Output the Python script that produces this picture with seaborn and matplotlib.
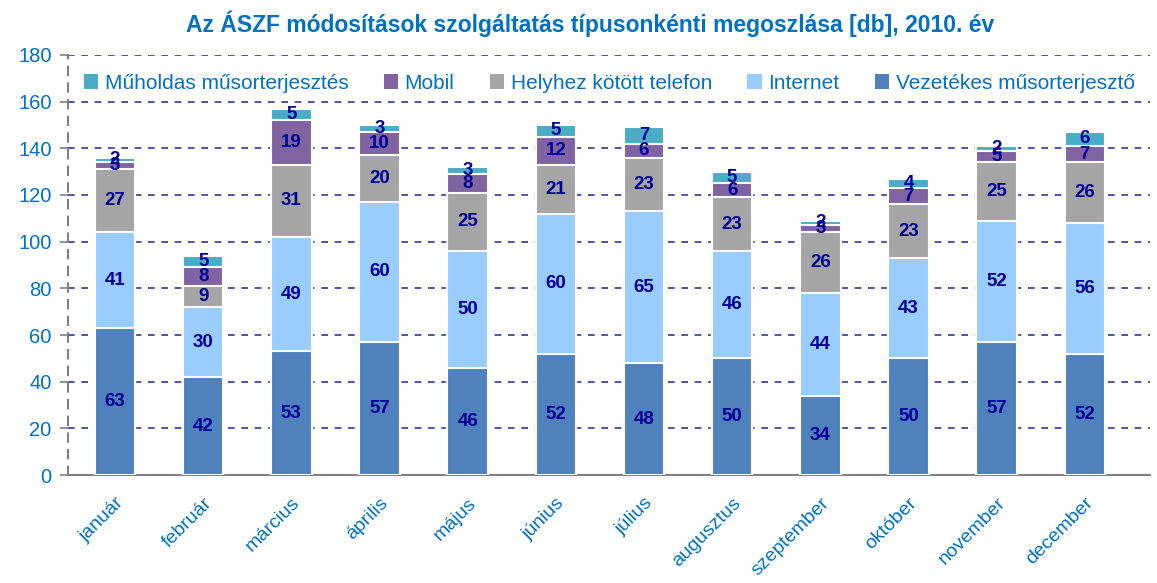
import matplotlib.pyplot as plt
import numpy as np
import seaborn as sns
from matplotlib.patches import Patch

months = ["január", "február", "március", "április", "május", "június",
          "július", "augusztus", "szeptember", "október", "november", "december"]

vezetekes = [63, 42, 53, 57, 46, 52, 48, 50, 34, 50, 57, 52]
internet = [41, 30, 49, 60, 50, 60, 65, 46, 44, 43, 52, 56]
helyhez = [27, 9, 31, 20, 25, 21, 23, 23, 26, 23, 25, 26]
mobil = [3, 8, 19, 10, 8, 12, 6, 6, 3, 7, 5, 7]
muholdas = [2, 5, 5, 3, 3, 5, 7, 5, 2, 4, 2, 6]

series = [
    ("Vezetékes műsorterjesztő", vezetekes, "#4F81BD"),
    ("Internet", internet, "#99CCFF"),
    ("Helyhez kötött telefon", helyhez, "#A5A5A5"),
    ("Mobil", mobil, "#8064A2"),
    ("Műholdas műsorterjesztés", muholdas, "#4BACC6"),
]

sns.set_style("white")
plt.rcParams["font.family"] = ["Liberation Sans", "DejaVu Sans"]
blue = "#0070C0"
navy = "#000099"

fig = plt.figure(figsize=(11.57, 5.83), dpi=100)
ax = fig.add_axes([0.059, 0.185, 0.935, 0.721])

# cumulative tops, drawn from the tallest down so each layer overlays the previous
cum = np.cumsum([s[1] for s in series], axis=0)
for i in range(len(series) - 1, -1, -1):
    name, vals, color = series[i]
    sns.barplot(x=months, y=cum[i], color=color, width=0.46, edgecolor="white",
                linewidth=1.5, saturation=1, ax=ax, zorder=3)

for i, (name, vals, color) in enumerate(series):
    for j, v in enumerate(vals):
        ax.text(j, cum[i][j] - v / 2, str(v), ha="center", va="center",
                fontsize=13.5, fontweight="bold", color=navy, zorder=5)

ax.set_ylim(0, 180)
ax.set_xlim(-0.53, 11.74)
ax.set_yticks(range(0, 181, 20))
ax.yaxis.grid(True, linestyle=(0, (4, 4)), color="#333399", linewidth=1.2, zorder=0)
ax.set_axisbelow(True)
ax.set_xlabel("")
ax.set_ylabel("")

for side in ["top", "right"]:
    ax.spines[side].set_visible(False)
ax.spines["left"].set_color("#808080")
ax.spines["left"].set_linestyle((0, (4, 4)))
ax.spines["left"].set_linewidth(1.5)
ax.spines["bottom"].set_color("#808080")
ax.spines["bottom"].set_linewidth(1.5)

ax.tick_params(axis="y", colors="#808080", labelcolor=blue, labelsize=14.5,
               length=6, width=1.2, direction="out", left=True, pad=6)
ax.tick_params(axis="x", length=0, labelcolor=blue, labelsize=14, pad=14)
plt.setp(ax.get_xticklabels(), rotation=45, ha="right", rotation_mode="anchor")

handles = [Patch(facecolor=c, edgecolor="none", label=n) for n, _, c in reversed(series)]
leg = ax.legend(handles=handles, loc="upper center", bbox_to_anchor=(0.5, 1.0),
                ncol=5, frameon=False, handlelength=0.7, handleheight=0.7,
                handletextpad=0.3, columnspacing=1.7,
                prop={"size": 15})
for t in leg.get_texts():
    t.set_color(blue)

fig.suptitle("Az ÁSZF módosítások szolgáltatás típusonkénti megoszlása [db], 2010. év",
             x=0.51, y=0.982, fontsize=16.5, fontweight="bold", color=blue)

fig.savefig("out.png", dpi=100)
